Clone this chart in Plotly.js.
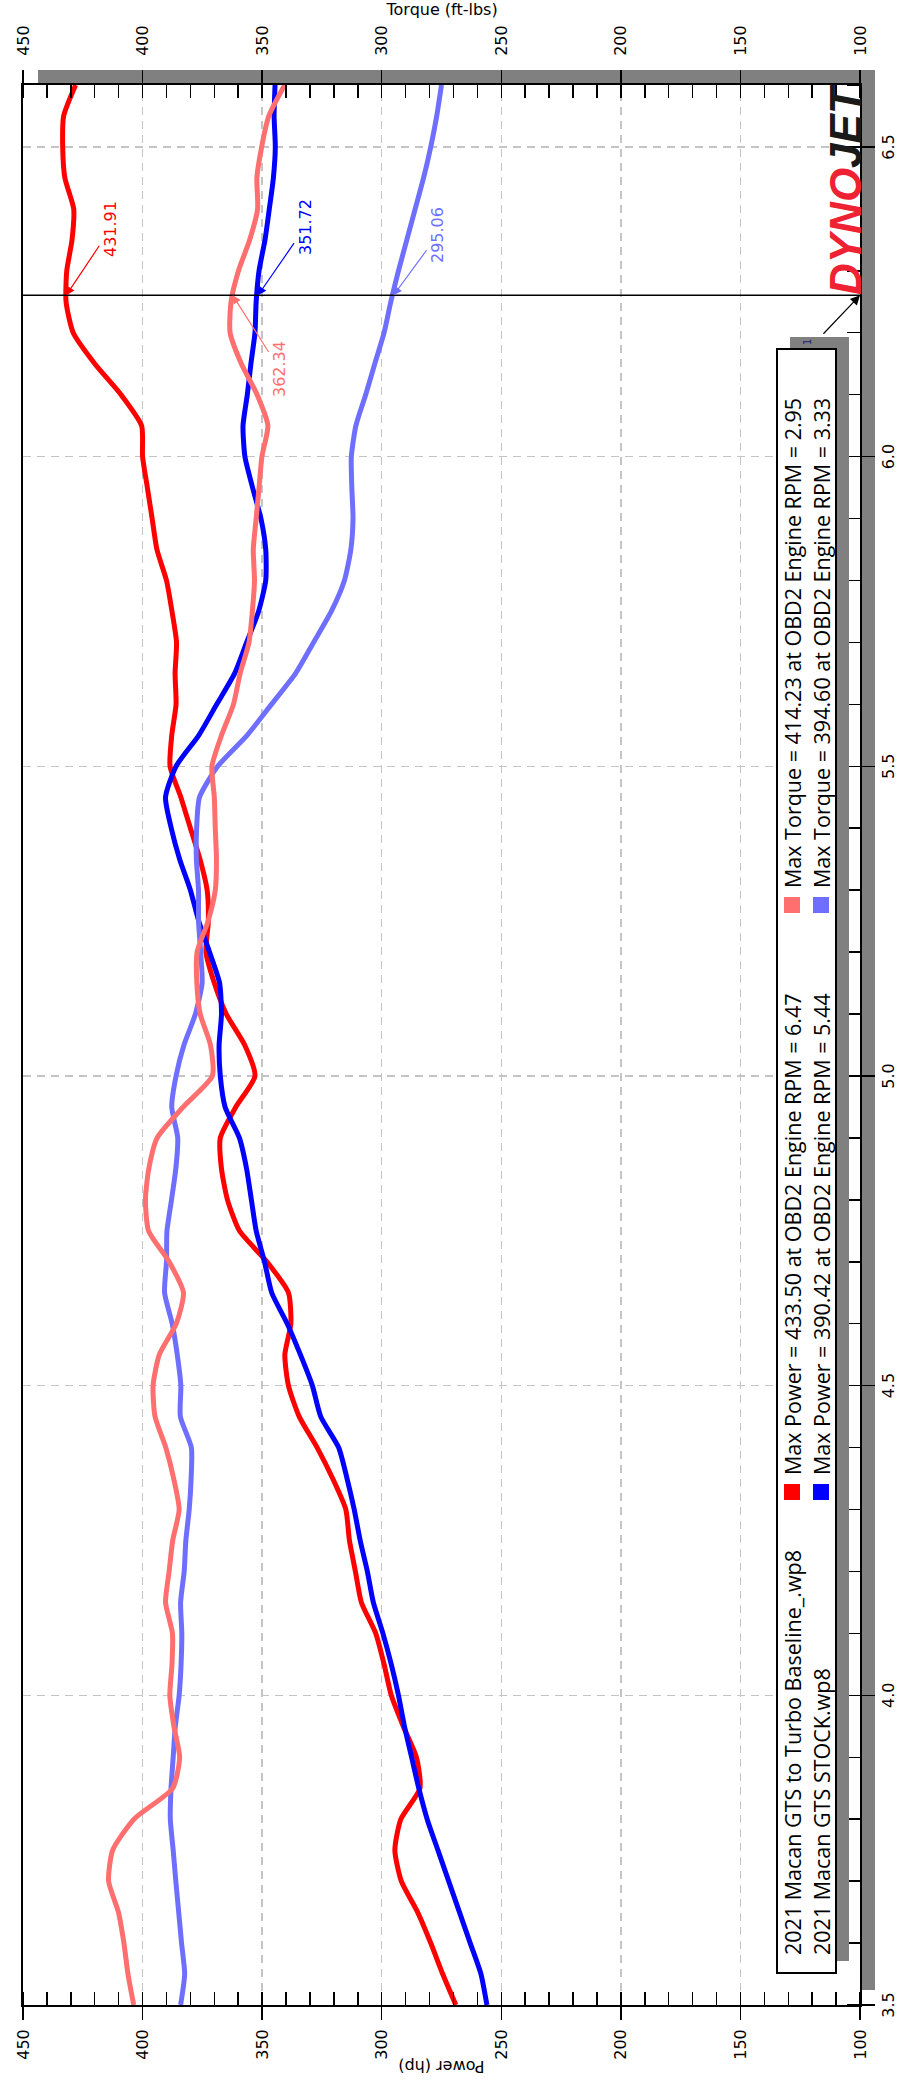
<!DOCTYPE html>
<html>
<head>
<meta charset="utf-8">
<script src="https://cdn.plot.ly/plotly-3.0.1.min.js"></script>
<style>
html,body{margin:0;padding:0;background:#fff;overflow:hidden;}
#wrap{position:relative;width:899px;height:2080px;overflow:hidden;background:#fff;}
#chart{position:absolute;left:0;top:0;width:2080px;height:899px;transform-origin:0 0;transform:translate(0,2080px) rotate(-90deg);}
</style>
</head>
<body>
<div id="wrap"><div id="chart"></div></div>
<script>
// ---- data (engine RPM x1000) ----
const rpm = [3.50,3.55,3.60,3.65,3.70,3.75,3.80,3.85,3.90,3.95,4.00,4.05,4.10,4.15,4.20,4.25,4.30,4.35,4.40,4.45,4.50,4.55,4.60,4.65,4.70,4.75,4.80,4.85,4.90,4.95,5.00,5.05,5.10,5.15,5.20,5.25,5.30,5.35,5.40,5.45,5.50,5.55,5.60,5.65,5.70,5.75,5.80,5.85,5.90,5.95,6.00,6.05,6.10,6.15,6.20,6.25,6.30,6.35,6.40,6.45,6.50,6.55,6.60];
const turboPower = [269,274.5,279.5,285,291.8,294.5,292,284,285.5,291,296,299,302.5,308.5,311,313.5,315,320.5,327,334.5,339,340.5,338,339,348,359.5,364.5,367,367.5,361,353,357.3,365,370,373.5,372.5,373,376,380,384,388.5,387.8,386,386.4,385.8,387.7,390,394,396,398,400,400.4,409,420,429,432,431.7,429.5,428.8,432.5,433.4,433,428];
const turboTorque = [403.7,406.1,407.8,410.1,414.2,412.5,403.6,387.4,384.5,386.9,388.6,387.7,387.5,390.4,388.9,387.4,384.7,387.0,390.3,394.8,395.6,393.0,385.9,382.9,388.9,397.5,398.8,397.4,393.9,383.0,370.8,371.6,375.9,377.3,377.2,372.6,369.6,369.1,369.6,370.0,371.0,367.0,362.0,359.2,355.5,354.1,353.2,353.7,352.5,351.3,350.1,347.6,352.1,358.7,363.4,363.0,359.9,355.2,351.9,352.2,350.2,347.2,340.6];
const stockPower = [256,258.5,263,267.5,272,276.5,281,284.5,287.5,290.5,293,296,299.5,303.5,306,309,311.5,314.5,318,325.5,329,334,339.5,346,349,352.5,354.5,356.5,359.5,365.5,367.5,368,367,367.8,372,376.5,380,384.5,388,390.4,386,376.5,369,361.5,356.5,351.5,348.5,348.5,350.5,354,357.2,358,356.2,354.7,353,352.5,351.3,348.8,347,345.3,344.5,345,344.6];
const stockTorque = [384.1,382.4,383.7,384.9,386.1,387.2,388.4,388.1,387.2,386.3,384.7,383.9,383.6,384.1,382.6,381.9,380.5,379.7,379.6,384.2,384.0,385.5,387.6,390.8,390.0,389.8,387.9,386.1,385.3,387.8,386.0,382.7,377.9,375.1,375.7,376.6,376.6,377.5,377.4,376.2,368.6,356.3,346.1,336.0,328.5,321.1,315.6,312.9,312.0,312.5,312.7,310.8,306.7,302.9,299.0,296.2,293.0,289.5,286,282.5,279.5,277,275];

const runNames = ["2021 Macan GTS to Turbo Baseline_.wp8", "2021 Macan GTS STOCK.wp8"];
const maxPowerText = ["Max Power = 433.50 at OBD2 Engine RPM = 6.47", "Max Power = 390.42 at OBD2 Engine RPM = 5.44"];
const maxTorqueText = ["Max Torque = 414.23 at OBD2 Engine RPM = 2.95", "Max Torque = 394.60 at OBD2 Engine RPM = 3.33"];
const cursorRpm = 6.2605;
const cursorLabels = ["431.91", "362.34", "351.72", "295.06"];
const cursorValues = [431.91, 362.34, 351.72, 295.06];
const powerTicks = [100,150,200,250,300,350,400,450];
const rpmTicks = [3.5,4.0,4.5,5.0,5.5,6.0,6.5];

// ---- styling ----
const C = {red:'#ff0000', pink:'#ff6f6f', blue:'#0000ff', lblue:'#6f6fff', grid:'#c4c4c4', shadow:'#808080'};
const W = 2080, Hh = 899;
const M = {l:75, r:85, t:23, b:39};
const PW = W - M.l - M.r, PH = Hh - M.t - M.b;
const px = X => (X - M.l) / PW;
const py = Y => (M.t + PH - Y) / PH;

function traceOf(y, axis, color){
  return {x: rpm, y: y, yaxis: axis, type:'scatter', mode:'lines',
    line:{color:color, width:5, shape:'spline', smoothing:0.6}, hoverinfo:'skip', showlegend:false};
}
const data = [
  traceOf(stockTorque, 'y2', C.lblue),
  traceOf(turboTorque, 'y2', C.pink),
  traceOf(turboPower, 'y', C.red),
  traceOf(stockPower, 'y', C.blue)
];

const tickFont = {family:'DejaVu Sans', size:16, color:'#000'};
const axisCommon = {
  ticks:'outside', ticklen:13, tickwidth:1.5, tickcolor:'#000',
  showline:true, linecolor:'#000', linewidth:2, zeroline:false,
  tickfont: tickFont, fixedrange:true
};

const shapes = [];
// plot drop shadow (outside parts only)
shapes.push({type:'rect', xref:'paper', yref:'paper', layer:'below', x0:px(1995), x1:px(2010), y0:py(875), y1:py(38), fillcolor:C.shadow, line:{width:0}});
shapes.push({type:'rect', xref:'paper', yref:'paper', layer:'below', x0:px(90), x1:px(2010), y0:py(875), y1:py(860), fillcolor:C.shadow, line:{width:0}});
// cursor line
shapes.push({type:'line', xref:'x', yref:'paper', x0:cursorRpm, x1:cursorRpm, y0:0, y1:1, line:{color:'#000', width:1.5}});
// legend shadow + box
const LB = {x0:107, x1:1731, y0:777, y1:836};
shapes.push({type:'rect', xref:'paper', yref:'paper', layer:'above', x0:px(LB.x0+12), x1:px(LB.x1+12), y0:py(LB.y1+13), y1:py(LB.y0+13), fillcolor:C.shadow, line:{width:0}});
shapes.push({type:'rect', xref:'paper', yref:'paper', layer:'above', x0:px(LB.x0), x1:px(LB.x1), y0:py(LB.y1), y1:py(LB.y0), fillcolor:'#fff', line:{color:'#000', width:2}});

const rowY = [792, 821];
const col1X = 123, mark1X = 588, mark2X = 1175;
const markColors = [[C.red, C.pink],[C.blue, C.lblue]];
const legFont = {family:'Open Sans', size:21.5, color:'#000'};
const annotations = [];
for (let r = 0; r < 2; r++){
  const Y = rowY[r];
  [mark1X, mark2X].forEach((mx, k) => {
    shapes.push({type:'rect', xref:'paper', yref:'paper', layer:'above', x0:px(mx-8), x1:px(mx+8), y0:py(Y+8), y1:py(Y-8), fillcolor:markColors[r][k], line:{width:0}});
  });
  annotations.push({xref:'paper', yref:'paper', x:px(col1X), y:py(Y), xanchor:'left', yanchor:'middle', text:runNames[r], showarrow:false, font:legFont});
  annotations.push({xref:'paper', yref:'paper', x:px(mark1X+15), y:py(Y), xanchor:'left', yanchor:'middle', text:maxPowerText[r], showarrow:false, font:legFont});
  annotations.push({xref:'paper', yref:'paper', x:px(mark2X+15), y:py(Y), xanchor:'left', yanchor:'middle', text:maxTorqueText[r], showarrow:false, font:legFont});
}
// legend tab "1"
annotations.push({xref:'paper', yref:'paper', x:px(1738), y:py(807), xanchor:'center', yanchor:'middle', text:'1', showarrow:false, font:{family:'DejaVu Sans', size:10, color:'#1a237e'}});
// arrow from legend tab to cursor
annotations.push({xref:'x', yref:'y', x:cursorRpm, y:100, ax:-40, ay:-38, text:'', showarrow:true, arrowhead:2, arrowsize:1.6, arrowwidth:1.2, arrowcolor:'#000'});

// cursor value labels
const curSpec = [
  {v:cursorValues[0], t:cursorLabels[0], ax:66, ay:44, c:C.red, ref:'y'},
  {v:cursorValues[1], t:cursorLabels[1], ax:-74, ay:47, c:C.pink, ref:'y2'},
  {v:cursorValues[2], t:cursorLabels[2], ax:68, ay:47, c:C.blue, ref:'y'},
  {v:cursorValues[3], t:cursorLabels[3], ax:60, ay:44, c:C.lblue, ref:'y2'}
];
curSpec.forEach(s => annotations.push({xref:'x', yref:s.ref, x:cursorRpm, y:s.v, ax:s.ax, ay:s.ay, text:s.t,
  showarrow:true, arrowhead:2, arrowsize:1.4, arrowwidth:1.2, arrowcolor:s.c, standoff:0,
  font:{family:'DejaVu Sans', size:16, color:s.c}}));

// axis titles
annotations.push({xref:'paper', yref:'paper', x:px(14), y:0.5, xanchor:'center', yanchor:'middle', text:'Power (hp)', textangle:-90, showarrow:false, font:{family:'DejaVu Sans', size:16, color:'#000'}});
annotations.push({xref:'paper', yref:'paper', x:px(2071), y:0.5, xanchor:'center', yanchor:'middle', text:'Torque (ft-lbs)', textangle:90, showarrow:false, font:{family:'DejaVu Sans', size:16, color:'#000'}});
// DynoJet logo
annotations.push({xref:'paper', yref:'paper', x:px(1890), y:py(845), xanchor:'center', yanchor:'middle', showarrow:false,
  text:'<b><i><span style="color:#ee2233">DYNO</span><span style="color:#1a1a1a">JET</span></i></b>',
  font:{family:'Liberation Sans', size:44}});

const layout = {
  width:W, height:Hh, margin:{l:M.l, r:M.r, t:M.t, b:M.b, pad:0},
  paper_bgcolor:'#fff', plot_bgcolor:'#fff', showlegend:false,
  xaxis:Object.assign({}, axisCommon, {range:[3.5,6.6], tickvals:rpmTicks, tickformat:'.1f', mirror:true,
    showgrid:true, gridcolor:C.grid, gridwidth:1.5, griddash:'8px,6px',
    minor:{dtick:0.1, tick0:3.5, ticks:'inside', ticklen:13, tickwidth:1.5, tickcolor:'#000', showgrid:false}}),
  yaxis:Object.assign({}, axisCommon, {range:[100,450], tickvals:powerTicks, side:'left', ticklabelstandoff:6,
    showgrid:true, gridcolor:C.grid, gridwidth:1.5, griddash:'8px,6px',
    minor:{dtick:10, tick0:100, ticks:'inside', ticklen:13, tickwidth:1.5, tickcolor:'#000', showgrid:false}}),
  yaxis2:Object.assign({}, axisCommon, {range:[100,450], tickvals:powerTicks, side:'right', overlaying:'y', showgrid:false, ticklabelstandoff:11,
    minor:{dtick:10, tick0:100, ticks:'inside', ticklen:13, tickwidth:1.5, tickcolor:'#000', showgrid:false}}),
  shapes:shapes, annotations:annotations
};

Plotly.newPlot('chart', data, layout, {staticPlot:true, displayModeBar:false});
</script>
</body>
</html>
